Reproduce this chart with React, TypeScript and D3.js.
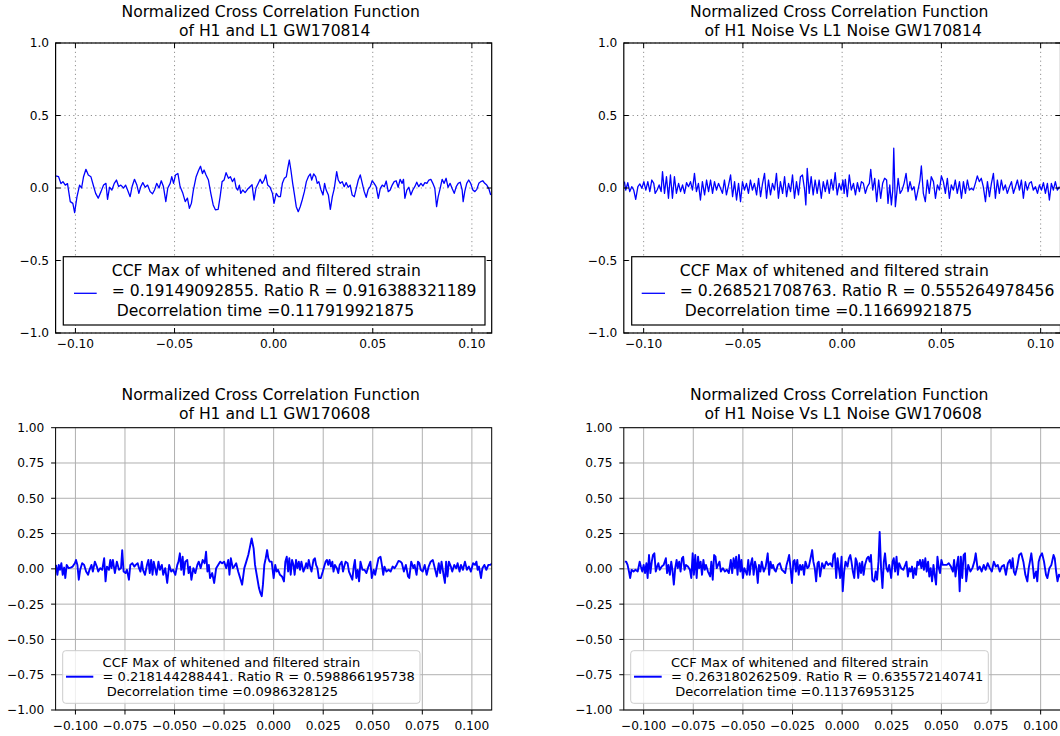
import React from 'react';
import * as d3 from 'd3';

type Pt = [number, number];

// ---------- data (lag in s, normalized CCF) ----------
const ccfSignal170814: Pt[] = [
  [-0.1100,0.083],[-0.1085,0.078],[-0.1073,0.030],[-0.1063,0.044],[-0.1051,0.020],[-0.1040,0.030],[-0.1026,-0.094],[-0.1013,-0.106],[-0.1004,-0.170],[-0.0992,-0.060],[-0.0979,0.020],[-0.0969,0.000],[-0.0959,0.078],[-0.0947,0.129],[-0.0935,0.090],[-0.0922,0.078],[-0.0908,0.010],[-0.0898,-0.037],[-0.0885,-0.070],[-0.0871,-0.025],[-0.0858,0.020],[-0.0846,0.032],[-0.0838,-0.078],[-0.0828,0.005],[-0.0816,-0.014],[-0.0804,0.032],[-0.0793,0.055],[-0.0782,0.010],[-0.0771,0.020],[-0.0757,0.000],[-0.0747,0.020],[-0.0737,-0.014],[-0.0724,-0.060],[-0.0714,0.010],[-0.0702,0.060],[-0.0690,0.020],[-0.0680,-0.037],[-0.0670,0.010],[-0.0660,0.037],[-0.0648,0.005],[-0.0636,0.020],[-0.0623,-0.025],[-0.0611,-0.040],[-0.0601,-0.014],[-0.0590,0.032],[-0.0578,0.000],[-0.0567,0.050],[-0.0556,0.010],[-0.0544,-0.094],[-0.0534,0.000],[-0.0522,0.032],[-0.0514,0.078],[-0.0505,0.032],[-0.0495,0.090],[-0.0483,0.100],[-0.0472,0.010],[-0.0458,-0.037],[-0.0446,-0.094],[-0.0435,-0.070],[-0.0425,-0.140],[-0.0415,-0.106],[-0.0405,-0.014],[-0.0391,0.078],[-0.0379,0.120],[-0.0369,0.150],[-0.0359,0.100],[-0.0351,0.124],[-0.0341,0.090],[-0.0329,0.055],[-0.0317,-0.037],[-0.0305,-0.117],[-0.0294,-0.150],[-0.0280,-0.147],[-0.0270,-0.060],[-0.0260,0.044],[-0.0250,0.055],[-0.0240,0.106],[-0.0228,0.067],[-0.0218,0.078],[-0.0208,0.044],[-0.0198,0.067],[-0.0189,0.000],[-0.0181,-0.014],[-0.0173,0.020],[-0.0166,-0.037],[-0.0156,-0.014],[-0.0144,-0.032],[-0.0132,-0.009],[-0.0119,0.009],[-0.0109,0.023],[-0.0099,-0.083],[-0.0089,0.000],[-0.0079,0.028],[-0.0068,0.060],[-0.0058,0.032],[-0.0048,0.055],[-0.0040,0.090],[-0.0030,0.020],[-0.0018,0.005],[-0.0006,-0.037],[0.0002,-0.106],
  [0.0013,-0.037],[0.0024,-0.060],[0.0034,-0.060],[0.0044,0.032],[0.0054,0.067],[0.0064,0.078],[0.0071,0.136],[0.0079,0.193],[0.0087,0.124],[0.0096,0.032],[0.0104,-0.037],[0.0114,-0.129],[0.0124,-0.163],[0.0134,-0.129],[0.0144,-0.083],[0.0155,-0.025],[0.0165,0.044],[0.0175,0.078],[0.0185,0.097],[0.0192,0.055],[0.0202,0.097],[0.0212,0.078],[0.0220,0.032],[0.0228,0.044],[0.0239,-0.014],[0.0249,-0.048],[0.0257,0.032],[0.0265,-0.014],[0.0276,-0.048],[0.0286,-0.147],[0.0296,-0.060],[0.0306,-0.002],[0.0318,0.113],[0.0326,0.055],[0.0336,0.032],[0.0346,0.044],[0.0356,0.009],[0.0366,0.037],[0.0376,0.005],[0.0386,0.020],[0.0396,-0.048],[0.0407,-0.060],[0.0417,-0.002],[0.0427,0.055],[0.0437,0.090],[0.0447,0.032],[0.0457,-0.025],[0.0467,-0.064],[0.0477,-0.009],[0.0487,0.009],[0.0497,0.050],[0.0507,0.032],[0.0517,0.009],[0.0528,-0.071],[0.0538,-0.002],[0.0548,0.020],[0.0558,0.009],[0.0568,0.048],[0.0578,-0.025],[0.0588,-0.014],[0.0598,0.020],[0.0608,0.044],[0.0618,0.050],[0.0628,0.005],[0.0638,0.060],[0.0648,0.032],[0.0655,0.060],[0.0662,-0.071],[0.0672,-0.014],[0.0682,0.005],[0.0692,-0.048],[0.0702,-0.014],[0.0712,0.009],[0.0722,0.040],[0.0732,0.009],[0.0743,0.032],[0.0753,0.014],[0.0763,0.037],[0.0773,0.032],[0.0783,0.055],[0.0793,0.060],[0.0803,0.032],[0.0813,-0.002],[0.0822,-0.129],[0.0830,-0.060],[0.0840,-0.002],[0.0850,0.060],[0.0860,0.032],[0.0870,0.067],[0.0880,0.005],[0.0890,0.032],[0.0900,-0.002],[0.0911,-0.037],[0.0921,0.009],[0.0931,0.032],[0.0941,0.040],[0.0951,-0.014],[0.0956,-0.094],[0.0964,-0.025],[0.0974,0.032],[0.0984,0.055],[0.0994,0.032],[0.1005,-0.014],[0.1015,-0.025],[0.1025,-0.009],[0.1035,0.032],[0.1045,0.044],[0.1055,0.050],[0.1065,0.032],[0.1075,0.020],[0.1085,-0.002],[0.1095,-0.048],
];

const ccfNoise170814: Pt[] = [
  [-0.1097,0.044],[-0.1090,-0.014],[-0.1080,0.037],[-0.1070,-0.025],[-0.1060,0.009],[-0.1050,-0.014],[-0.1040,-0.078],[-0.1029,0.009],[-0.1019,0.028],[-0.1009,-0.002],[-0.0999,0.044],[-0.0989,-0.014],[-0.0979,0.044],[-0.0969,-0.025],[-0.0959,0.055],[-0.0949,0.032],[-0.0942,-0.037],[-0.0932,-0.014],[-0.0922,0.021],[-0.0912,-0.025],[-0.0905,0.113],[-0.0895,-0.037],[-0.0885,0.078],[-0.0875,-0.071],[-0.0865,0.090],[-0.0855,-0.071],[-0.0845,0.078],[-0.0835,-0.037],[-0.0824,0.032],[-0.0814,-0.025],[-0.0804,0.021],[-0.0794,-0.037],[-0.0784,0.037],[-0.0774,0.009],[-0.0764,0.044],[-0.0754,-0.014],[-0.0744,0.101],[-0.0734,-0.025],[-0.0724,0.032],[-0.0714,-0.083],[-0.0704,0.044],[-0.0693,-0.048],[-0.0683,0.055],[-0.0673,-0.025],[-0.0663,0.055],[-0.0653,-0.037],[-0.0643,0.044],[-0.0633,-0.014],[-0.0623,0.032],[-0.0613,-0.002],[-0.0603,-0.037],[-0.0593,0.055],[-0.0583,-0.048],[-0.0572,0.021],[-0.0562,0.090],[-0.0552,-0.060],[-0.0542,0.044],[-0.0532,-0.083],[-0.0522,0.032],[-0.0512,-0.094],[-0.0502,0.044],[-0.0492,-0.014],[-0.0482,0.032],[-0.0472,-0.037],[-0.0462,0.055],[-0.0452,-0.014],[-0.0442,0.032],[-0.0431,-0.048],[-0.0421,0.067],[-0.0411,-0.060],[-0.0401,0.032],[-0.0391,0.101],[-0.0381,-0.071],[-0.0371,0.055],[-0.0361,-0.048],[-0.0351,0.032],[-0.0341,-0.014],[-0.0331,0.101],[-0.0321,-0.071],[-0.0311,0.044],[-0.0300,-0.037],[-0.0290,0.078],[-0.0280,-0.060],[-0.0270,0.032],[-0.0260,-0.025],[-0.0250,0.090],[-0.0240,-0.071],[-0.0230,0.044],[-0.0220,-0.048],[-0.0210,0.078],[-0.0200,0.090],[-0.0189,-0.014],[-0.0183,-0.117],[-0.0176,0.136],[-0.0166,-0.037],[-0.0156,0.078],[-0.0146,-0.048],[-0.0136,0.055],[-0.0126,-0.037],[-0.0116,0.055],[-0.0105,-0.071],[-0.0095,0.044],[-0.0085,-0.025],[-0.0075,0.055],[-0.0065,-0.037],[-0.0055,0.060],[-0.0045,-0.014],[-0.0035,0.106],[-0.0025,-0.048],[-0.0015,0.032],[-0.0005,-0.014],[0.0004,0.055],
  [0.0010,-0.037],[0.0016,0.060],[0.0026,-0.060],[0.0036,0.090],[0.0046,-0.014],[0.0057,0.032],[0.0067,-0.048],[0.0077,0.037],[0.0087,-0.025],[0.0097,0.044],[0.0107,0.032],[0.0117,-0.037],[0.0127,0.009],[0.0137,0.032],[0.0144,0.129],[0.0154,-0.014],[0.0164,0.067],[0.0174,-0.094],[0.0184,0.055],[0.0194,-0.071],[0.0204,0.032],[0.0214,0.067],[0.0224,0.055],[0.0231,-0.106],[0.0240,0.021],[0.0248,-0.117],[0.0255,-0.014],[0.0260,0.274],[0.0268,-0.129],[0.0275,-0.037],[0.0282,0.067],[0.0292,-0.037],[0.0302,-0.014],[0.0312,0.032],[0.0322,0.101],[0.0332,-0.025],[0.0342,0.044],[0.0352,-0.014],[0.0362,0.009],[0.0372,-0.083],[0.0382,-0.014],[0.0392,0.055],[0.0399,0.152],[0.0409,-0.037],[0.0419,-0.094],[0.0429,0.055],[0.0439,-0.037],[0.0449,0.078],[0.0460,0.044],[0.0470,-0.071],[0.0480,0.021],[0.0490,-0.014],[0.0500,0.083],[0.0510,0.044],[0.0520,-0.037],[0.0530,0.067],[0.0540,-0.071],[0.0550,0.021],[0.0560,-0.014],[0.0570,0.055],[0.0580,-0.037],[0.0591,0.044],[0.0601,-0.071],[0.0611,0.044],[0.0621,-0.037],[0.0631,0.055],[0.0641,-0.014],[0.0651,-0.002],[0.0661,-0.014],[0.0671,0.032],[0.0681,0.083],[0.0691,0.044],[0.0701,0.067],[0.0711,0.009],[0.0722,-0.094],[0.0732,0.044],[0.0742,-0.060],[0.0752,0.032],[0.0762,0.101],[0.0772,-0.071],[0.0782,0.055],[0.0792,-0.037],[0.0802,0.055],[0.0812,-0.014],[0.0822,0.021],[0.0832,-0.037],[0.0843,0.009],[0.0853,0.044],[0.0863,-0.037],[0.0873,0.009],[0.0883,0.055],[0.0893,-0.014],[0.0903,0.055],[0.0913,-0.071],[0.0923,0.044],[0.0933,-0.014],[0.0943,0.032],[0.0953,0.044],[0.0963,-0.014],[0.0974,0.009],[0.0984,-0.037],[0.0994,0.021],[0.1004,-0.014],[0.1014,0.037],[0.1024,-0.037],[0.1034,0.032],[0.1044,-0.083],[0.1054,0.032],[0.1064,-0.014],[0.1074,0.044],[0.1084,-0.014],[0.1095,0.009],
];

const ccfSignal170608: Pt[] = [
  [-0.1098,0.028],[-0.1091,-0.042],[-0.1084,0.028],[-0.1078,-0.007],[-0.1071,0.040],[-0.1064,-0.042],[-0.1057,0.009],[-0.1051,-0.065],[-0.1044,0.028],[-0.1034,0.005],[-0.1024,0.009],[-0.1014,0.016],[-0.1003,0.040],[-0.0997,0.063],[-0.0990,0.028],[-0.0983,-0.077],[-0.0976,-0.007],[-0.0966,0.040],[-0.0956,0.028],[-0.0946,-0.019],[-0.0936,-0.042],[-0.0929,-0.007],[-0.0919,0.028],[-0.0912,-0.019],[-0.0902,0.051],[-0.0892,0.016],[-0.0885,-0.019],[-0.0875,0.005],[-0.0865,-0.007],[-0.0855,0.075],[-0.0848,-0.089],[-0.0841,0.016],[-0.0831,-0.007],[-0.0824,0.063],[-0.0818,0.005],[-0.0811,0.063],[-0.0801,-0.030],[-0.0791,0.051],[-0.0780,-0.007],[-0.0770,0.005],[-0.0764,0.133],[-0.0757,-0.019],[-0.0747,-0.030],[-0.0740,-0.007],[-0.0730,-0.077],[-0.0723,0.028],[-0.0713,0.040],[-0.0703,0.016],[-0.0696,0.028],[-0.0686,0.040],[-0.0679,0.005],[-0.0672,-0.019],[-0.0665,0.051],[-0.0659,-0.007],[-0.0649,-0.042],[-0.0639,0.028],[-0.0632,0.063],[-0.0625,-0.030],[-0.0618,0.063],[-0.0611,-0.042],[-0.0605,0.051],[-0.0598,0.005],[-0.0591,-0.042],[-0.0581,0.051],[-0.0574,-0.007],[-0.0564,0.028],[-0.0557,-0.042],[-0.0547,0.005],[-0.0537,-0.100],[-0.0527,0.028],[-0.0517,-0.019],[-0.0507,-0.007],[-0.0496,-0.042],[-0.0486,0.028],[-0.0480,0.051],[-0.0473,0.110],[-0.0466,-0.007],[-0.0459,0.086],[-0.0453,-0.042],[-0.0446,0.051],[-0.0436,0.063],[-0.0429,-0.030],[-0.0422,0.016],[-0.0415,-0.077],[-0.0405,0.005],[-0.0395,-0.030],[-0.0385,0.028],[-0.0378,0.051],[-0.0368,0.005],[-0.0358,0.063],[-0.0348,0.040],[-0.0341,0.121],[-0.0334,-0.019],[-0.0327,0.028],[-0.0321,-0.065],[-0.0310,-0.030],[-0.0300,-0.100],[-0.0290,0.005],[-0.0280,0.028],[-0.0270,0.051],[-0.0260,0.040],[-0.0250,0.051],[-0.0239,0.005],[-0.0229,0.063],[-0.0223,-0.042],[-0.0216,0.075],[-0.0206,0.005],[-0.0199,0.016],[-0.0189,0.040],[-0.0179,-0.019],[-0.0169,-0.065],[-0.0159,-0.112],[-0.0148,0.005],[-0.0138,0.051],[-0.0128,0.098],[-0.0121,0.145],[-0.0111,0.215],[-0.0101,0.145],[-0.0094,0.028],[-0.0084,-0.054],[-0.0074,-0.136],[-0.0067,-0.171],[-0.0060,-0.194],[-0.0054,-0.112],[-0.0047,0.028],[-0.0040,0.075],[-0.0033,0.133],[-0.0027,0.075],[-0.0020,0.051],[-0.0010,0.051],[0.0000,-0.065],
  [0.0008,0.028],[0.0015,-0.019],[0.0022,-0.007],[0.0032,-0.042],[0.0042,-0.054],[0.0052,-0.089],[0.0059,0.051],[0.0066,0.086],[0.0073,-0.019],[0.0079,0.075],[0.0086,-0.042],[0.0093,0.063],[0.0100,0.028],[0.0106,-0.042],[0.0113,0.063],[0.0120,0.005],[0.0127,0.051],[0.0133,-0.007],[0.0140,0.051],[0.0150,-0.019],[0.0157,0.005],[0.0164,0.040],[0.0171,0.005],[0.0177,0.063],[0.0184,0.016],[0.0191,-0.019],[0.0201,0.063],[0.0208,0.075],[0.0214,0.028],[0.0221,0.005],[0.0228,-0.065],[0.0238,-0.065],[0.0248,-0.019],[0.0255,0.016],[0.0262,0.051],[0.0269,0.063],[0.0275,0.028],[0.0282,0.063],[0.0289,0.016],[0.0296,0.051],[0.0302,-0.019],[0.0309,0.028],[0.0319,0.005],[0.0326,-0.030],[0.0333,0.028],[0.0343,0.051],[0.0350,-0.019],[0.0356,0.016],[0.0363,0.051],[0.0373,0.040],[0.0380,-0.019],[0.0390,-0.054],[0.0397,-0.077],[0.0404,0.016],[0.0410,0.063],[0.0417,-0.065],[0.0424,-0.007],[0.0431,-0.089],[0.0438,0.051],[0.0448,-0.007],[0.0458,-0.007],[0.0468,-0.030],[0.0478,0.016],[0.0488,0.051],[0.0495,-0.065],[0.0505,-0.007],[0.0512,-0.042],[0.0522,0.028],[0.0529,0.075],[0.0539,0.086],[0.0546,0.028],[0.0553,-0.042],[0.0559,0.016],[0.0569,-0.019],[0.0580,-0.007],[0.0590,-0.019],[0.0600,0.016],[0.0610,0.005],[0.0620,0.028],[0.0630,0.056],[0.0640,0.051],[0.0647,0.040],[0.0657,-0.019],[0.0667,0.028],[0.0678,-0.054],[0.0684,-0.065],[0.0694,0.051],[0.0705,0.005],[0.0711,0.028],[0.0721,-0.042],[0.0728,0.051],[0.0735,0.040],[0.0742,-0.007],[0.0752,-0.019],[0.0762,0.028],[0.0772,-0.042],[0.0782,0.016],[0.0792,0.051],[0.0803,0.063],[0.0813,0.005],[0.0823,-0.054],[0.0833,0.040],[0.0840,-0.030],[0.0847,0.051],[0.0857,-0.042],[0.0864,-0.100],[0.0870,0.051],[0.0877,-0.054],[0.0884,0.051],[0.0894,0.016],[0.0901,-0.019],[0.0911,0.028],[0.0921,0.005],[0.0928,0.040],[0.0938,-0.019],[0.0945,0.028],[0.0955,-0.007],[0.0965,0.051],[0.0975,-0.007],[0.0985,0.016],[0.0995,-0.019],[0.1006,0.040],[0.1016,0.028],[0.1023,0.051],[0.1029,-0.007],[0.1036,0.016],[0.1046,-0.065],[0.1053,0.005],[0.1063,0.028],[0.1073,-0.007],[0.1083,0.028],[0.1093,0.028],[0.1103,0.040],
];

const ccfNoise170608: Pt[] = [
  [-0.1095,0.051],[-0.1088,0.051],[-0.1081,0.028],[-0.1074,-0.019],[-0.1068,-0.065],[-0.1061,-0.007],[-0.1051,-0.019],[-0.1041,-0.007],[-0.1030,-0.019],[-0.1020,0.051],[-0.1014,0.016],[-0.1007,-0.019],[-0.1000,0.028],[-0.0993,-0.030],[-0.0986,0.040],[-0.0980,-0.065],[-0.0973,0.098],[-0.0966,-0.030],[-0.0959,0.051],[-0.0953,0.098],[-0.0946,0.110],[-0.0939,-0.019],[-0.0932,0.016],[-0.0926,0.040],[-0.0919,-0.007],[-0.0909,0.016],[-0.0899,0.028],[-0.0888,0.075],[-0.0882,-0.030],[-0.0875,0.028],[-0.0868,-0.042],[-0.0861,0.051],[-0.0855,-0.007],[-0.0848,-0.112],[-0.0841,0.005],[-0.0834,0.063],[-0.0828,0.005],[-0.0821,0.051],[-0.0814,-0.019],[-0.0807,0.075],[-0.0801,0.086],[-0.0794,-0.007],[-0.0787,0.028],[-0.0777,0.016],[-0.0767,-0.007],[-0.0760,-0.065],[-0.0753,0.110],[-0.0747,-0.042],[-0.0740,0.098],[-0.0733,-0.065],[-0.0726,0.086],[-0.0720,0.005],[-0.0713,0.051],[-0.0706,-0.042],[-0.0699,0.063],[-0.0692,-0.007],[-0.0686,0.028],[-0.0676,-0.019],[-0.0665,-0.054],[-0.0659,0.051],[-0.0652,-0.077],[-0.0645,0.098],[-0.0638,0.086],[-0.0632,0.005],[-0.0625,0.028],[-0.0618,0.051],[-0.0611,-0.019],[-0.0601,0.005],[-0.0591,-0.019],[-0.0581,-0.007],[-0.0571,-0.030],[-0.0561,0.063],[-0.0554,-0.030],[-0.0547,0.075],[-0.0540,0.005],[-0.0534,0.086],[-0.0527,-0.042],[-0.0520,0.098],[-0.0513,-0.019],[-0.0507,0.063],[-0.0500,-0.065],[-0.0493,0.005],[-0.0486,-0.019],[-0.0480,-0.042],[-0.0473,0.063],[-0.0466,-0.042],[-0.0459,0.040],[-0.0453,0.075],[-0.0446,-0.042],[-0.0439,0.051],[-0.0432,0.005],[-0.0425,-0.100],[-0.0419,0.028],[-0.0412,-0.019],[-0.0405,0.051],[-0.0395,-0.019],[-0.0385,0.016],[-0.0375,0.110],[-0.0368,-0.042],[-0.0361,0.051],[-0.0354,0.005],[-0.0348,0.028],[-0.0341,-0.007],[-0.0334,-0.019],[-0.0324,0.028],[-0.0314,0.040],[-0.0304,-0.007],[-0.0294,-0.019],[-0.0287,-0.030],[-0.0280,0.028],[-0.0273,0.063],[-0.0267,0.098],[-0.0260,0.005],[-0.0253,-0.100],[-0.0246,0.051],[-0.0240,0.063],[-0.0233,-0.019],[-0.0226,0.063],[-0.0219,-0.042],[-0.0212,0.028],[-0.0206,-0.007],[-0.0199,0.028],[-0.0192,-0.042],[-0.0185,0.051],[-0.0175,0.005],[-0.0168,0.016],[-0.0161,0.063],[-0.0151,0.133],[-0.0145,0.051],[-0.0138,0.005],[-0.0131,-0.089],[-0.0124,0.040],[-0.0118,0.051],[-0.0111,-0.054],[-0.0101,0.040],[-0.0091,0.005],[-0.0080,0.051],[-0.0070,0.028],[-0.0060,0.040],[-0.0050,0.016],[-0.0044,0.098],[-0.0037,0.110],[-0.0030,-0.065],[-0.0023,0.075],
  [-0.0010,-0.065],[-0.0003,0.086],[0.0003,-0.159],[0.0010,-0.019],[0.0017,0.051],[0.0027,0.016],[0.0034,0.075],[0.0041,0.098],[0.0047,0.051],[0.0054,-0.019],[0.0061,-0.065],[0.0068,0.075],[0.0074,0.051],[0.0081,-0.065],[0.0088,0.040],[0.0095,-0.030],[0.0101,0.051],[0.0108,-0.042],[0.0115,0.028],[0.0125,0.075],[0.0132,0.086],[0.0139,0.051],[0.0145,0.098],[0.0152,-0.077],[0.0162,-0.089],[0.0169,-0.019],[0.0176,-0.077],[0.0183,0.051],[0.0189,0.262],[0.0196,0.005],[0.0203,-0.136],[0.0210,0.051],[0.0216,0.110],[0.0223,0.005],[0.0230,-0.019],[0.0237,0.028],[0.0247,-0.065],[0.0254,0.051],[0.0260,0.075],[0.0267,-0.019],[0.0274,0.086],[0.0281,-0.042],[0.0287,0.040],[0.0297,0.005],[0.0308,-0.007],[0.0318,0.028],[0.0324,0.051],[0.0331,-0.054],[0.0338,0.005],[0.0345,-0.019],[0.0352,0.016],[0.0358,-0.065],[0.0365,0.005],[0.0372,-0.042],[0.0379,0.051],[0.0385,0.028],[0.0392,0.063],[0.0399,0.005],[0.0406,0.063],[0.0412,-0.007],[0.0419,0.075],[0.0426,-0.019],[0.0433,0.051],[0.0439,-0.054],[0.0446,0.005],[0.0453,-0.089],[0.0460,0.028],[0.0466,-0.042],[0.0473,-0.112],[0.0480,0.086],[0.0487,0.005],[0.0493,-0.030],[0.0500,0.063],[0.0507,0.028],[0.0517,0.028],[0.0527,0.028],[0.0537,0.040],[0.0548,0.016],[0.0558,-0.019],[0.0564,0.063],[0.0571,-0.054],[0.0578,0.028],[0.0585,0.086],[0.0592,-0.159],[0.0598,0.086],[0.0605,-0.065],[0.0612,0.098],[0.0619,0.110],[0.0625,-0.089],[0.0635,0.028],[0.0646,-0.019],[0.0656,0.005],[0.0666,0.051],[0.0673,0.110],[0.0683,-0.007],[0.0693,0.016],[0.0703,-0.019],[0.0713,0.028],[0.0723,-0.007],[0.0733,0.040],[0.0744,0.005],[0.0754,-0.019],[0.0764,0.051],[0.0774,0.016],[0.0784,0.028],[0.0794,-0.019],[0.0804,0.016],[0.0815,0.028],[0.0825,-0.042],[0.0835,0.040],[0.0845,0.063],[0.0852,0.005],[0.0859,0.075],[0.0865,-0.019],[0.0872,-0.042],[0.0882,0.016],[0.0892,0.098],[0.0902,0.110],[0.0913,0.051],[0.0923,-0.042],[0.0933,-0.089],[0.0940,0.005],[0.0946,0.051],[0.0953,0.110],[0.0960,0.028],[0.0967,-0.065],[0.0977,-0.019],[0.0983,-0.089],[0.0990,0.051],[0.0997,0.086],[0.1007,0.110],[0.1017,0.051],[0.1027,-0.042],[0.1034,-0.065],[0.1044,0.005],[0.1054,0.028],[0.1065,0.098],[0.1071,0.075],[0.1078,-0.019],[0.1085,-0.089],[0.1092,-0.042],[0.1098,-0.054],[0.1105,-0.019],
];

const lagDomain: [number, number] = [-0.11, 0.11];
const ccfDomain: [number, number] = [-1, 1];
const classicXTicks = [-0.1, -0.05, 0, 0.05, 0.1];
const classicYTicks = [-1, -0.5, 0, 0.5, 1];
const modernXTicks = [-0.1, -0.075, -0.05, -0.025, 0, 0.025, 0.05, 0.075, 0.1];
const modernYTicks = [-1, -0.75, -0.5, -0.25, 0, 0.25, 0.5, 0.75, 1];

const titlesLine1 = 'Normalized Cross Correlation Function';
const titlesLine2 = [
  'of H1 and L1 GW170814',
  'of H1 Noise Vs L1 Noise GW170814',
  'of H1 and L1 GW170608',
  'of H1 Noise Vs L1 Noise GW170608',
];
const legendLine1 = 'CCF Max of whitened and filtered strain';
const legendLine2 = [
  '= 0.19149092855. Ratio R = 0.916388321189',
  '= 0.268521708763. Ratio R = 0.555264978456',
  '= 0.218144288441. Ratio R = 0.598866195738',
  '= 0.263180262509. Ratio R = 0.635572140741',
];
const legendLine3 = [
  ' Decorrelation time =0.117919921875',
  ' Decorrelation time =0.11669921875',
  ' Decorrelation time =0.0986328125',
  ' Decorrelation time =0.11376953125',
];

// ---------- layout ----------
const FONT = '"DejaVu Sans", "Liberation Sans", sans-serif';
const BLUE = '#0000ff';

interface Spec {
  id: string;
  data: Pt[];
  modern: boolean;
  left: number; right: number; top: number; bottom: number;
  t1y: number; t2y: number;
  legX: number; legY: number; legW: number; legH: number;
  textX: number; baselines: number[]; handleX: [number, number]; handleY: number;
  idx: number;
}

const specs: Spec[] = [
  { id: 'tl', data: ccfSignal170814, modern: false, idx: 0,
    left: 55.6, right: 491.7, top: 43, bottom: 333, t1y: 16.7, t2y: 35.7,
    legX: 63.3, legY: 256.7, legW: 421.7, legH: 68.3, textX: 111.8,
    baselines: [276, 296, 315.5], handleX: [74, 96.7], handleY: 293.3 },
  { id: 'tr', data: ccfNoise170814, modern: false, idx: 1,
    left: 623.8, right: 1060.5, top: 43, bottom: 333, t1y: 16.7, t2y: 35.7,
    legX: 631.7, legY: 256.7, legW: 431.6, legH: 68.3, textX: 679.8,
    baselines: [276, 296, 315.5], handleX: [641.7, 665], handleY: 293.3 },
  { id: 'bl', data: ccfSignal170608, modern: true, idx: 2,
    left: 55.6, right: 491.7, top: 427.7, bottom: 710, t1y: 400, t2y: 419.3,
    legX: 62.7, legY: 650.7, legW: 357.3, legH: 52.6, textX: 102.6,
    baselines: [666.5, 681, 696.3], handleX: [66, 93.3], handleY: 676.7 },
  { id: 'br', data: ccfNoise170608, modern: true, idx: 3,
    left: 623.8, right: 1060.5, top: 427.7, bottom: 710, t1y: 400, t2y: 419.3,
    legX: 630.7, legY: 650.7, legW: 357.6, legH: 52.6, textX: 671,
    baselines: [666.5, 681, 696.3], handleX: [634, 661.7], handleY: 676.7 },
];

const fmt = (digits: number) => (v: number) => d3.format(`.${digits}f`)(v).replace('-', '\u2212');

function Panel({ s }: { s: Spec }) {
  const x = d3.scaleLinear().domain(lagDomain).range([s.left, s.right]);
  const y = d3.scaleLinear().domain(ccfDomain).range([s.bottom, s.top]);
  const line = d3.line<Pt>().x((d) => x(d[0])).y((d) => y(d[1]));
  const xt = s.modern ? modernXTicks : classicXTicks;
  const yt = s.modern ? modernYTicks : classicYTicks;
  const fx = fmt(s.modern ? 3 : 2);
  const fy = fmt(s.modern ? 2 : 1);
  const tickFs = 12.2;
  const cx = (s.left + s.right) / 2;
  const gridProps = s.modern
    ? { stroke: '#b0b0b0', strokeWidth: 1 }
    : { stroke: '#000', strokeOpacity: 0.55, strokeWidth: 0.8, strokeDasharray: '1.2,3.2' };
  const tl = 5;
  return (
    <g>
      <defs>
        <clipPath id={`clip-${s.id}`}>
          <rect x={s.left} y={s.top} width={s.right - s.left} height={s.bottom - s.top} />
        </clipPath>
      </defs>
      <rect x={s.left} y={s.top} width={s.right - s.left} height={s.bottom - s.top} fill="#fff" />
      {/* grid */}
      {xt.map((t) => (
        <line key={`gx${t}`} x1={x(t)} x2={x(t)} y1={s.top} y2={s.bottom} {...gridProps} />
      ))}
      {yt.map((t) => (
        <line key={`gy${t}`} x1={s.left} x2={s.right} y1={y(t)} y2={y(t)} {...gridProps} />
      ))}
      {/* data */}
      <path d={line(s.data) || ''} fill="none" stroke={BLUE} strokeWidth={s.modern ? 1.9 : 1.3}
        strokeLinejoin="round" clipPath={`url(#clip-${s.id})`} />
      {/* ticks */}
      {s.modern ? (
        <g stroke="#000" strokeWidth={1}>
          {xt.map((t) => <line key={`tx${t}`} x1={x(t)} x2={x(t)} y1={s.bottom} y2={s.bottom + 4.5} />)}
          {yt.map((t) => <line key={`ty${t}`} x1={s.left - 4.5} x2={s.left} y1={y(t)} y2={y(t)} />)}
        </g>
      ) : (
        <g stroke="#000" strokeWidth={1}>
          {xt.map((t) => <line key={`tx${t}`} x1={x(t)} x2={x(t)} y1={s.bottom} y2={s.bottom - tl} />)}
          {xt.map((t) => <line key={`tx2${t}`} x1={x(t)} x2={x(t)} y1={s.top} y2={s.top + tl} />)}
          {yt.map((t) => <line key={`ty${t}`} x1={s.left} x2={s.left + tl} y1={y(t)} y2={y(t)} />)}
          {yt.map((t) => <line key={`ty2${t}`} x1={s.right} x2={s.right - tl} y1={y(t)} y2={y(t)} />)}
        </g>
      )}
      {/* spines */}
      <rect x={s.left} y={s.top} width={s.right - s.left} height={s.bottom - s.top} fill="none"
        stroke="#000" strokeWidth={s.modern ? 1 : 1.2} />
      {/* tick labels */}
      <g fontFamily={FONT} fontSize={tickFs} fill="#000">
        {xt.map((t) => (
          <text key={`lx${t}`} x={x(t)} y={s.modern ? 729.5 : 347.8} textAnchor="middle">{fx(t)}</text>
        ))}
        {yt.map((t) => (
          <text key={`ly${t}`} x={s.left - (s.modern ? 11.3 : 6.5)} y={y(t) + tickFs * 0.36} textAnchor="end">{fy(t)}</text>
        ))}
      </g>
      {/* title */}
      <g fontFamily={FONT} fontSize={15.6} fill="#000" textAnchor="middle">
        <text x={cx - 3} y={s.t1y}>{titlesLine1}</text>
        <text x={cx + 1} y={s.t2y}>{titlesLine2[s.idx]}</text>
      </g>
      {/* legend */}
      <g clipPath={`url(#clip-${s.id}-leg)`}>
        {s.modern ? (
          <rect x={s.legX} y={s.legY} width={s.legW} height={s.legH} rx={3} ry={3}
            fill="#fff" fillOpacity={0.8} stroke="#cccccc" strokeWidth={1} />
        ) : (
          <rect x={s.legX} y={s.legY} width={s.legW} height={s.legH} fill="#fff" stroke="#000" strokeWidth={1.2} />
        )}
        <line x1={s.handleX[0]} x2={s.handleX[1]} y1={s.handleY} y2={s.handleY} stroke={BLUE}
          strokeWidth={s.modern ? 2 : 1.3} />
        <g fontFamily={FONT} fontSize={s.modern ? 13 : 15.6} fill="#000" style={{ whiteSpace: 'pre' }}>
          <text x={s.textX} y={s.baselines[0]} xmlSpace="preserve">{legendLine1}</text>
          <text x={s.textX} y={s.baselines[1]} xmlSpace="preserve">{legendLine2[s.idx]}</text>
          <text x={s.textX} y={s.baselines[2]} xmlSpace="preserve">{legendLine3[s.idx]}</text>
        </g>
      </g>
    </g>
  );
}

export default function App() {
  return (
    <svg width={1060} height={736} viewBox="0 0 1060 736"
      style={{ position: 'absolute', left: 0, top: 0, background: '#fff' }}>
      <rect x={0} y={0} width={1060} height={736} fill="#fff" />
      {specs.map((s) => <Panel key={s.id} s={s} />)}
    </svg>
  );
}
